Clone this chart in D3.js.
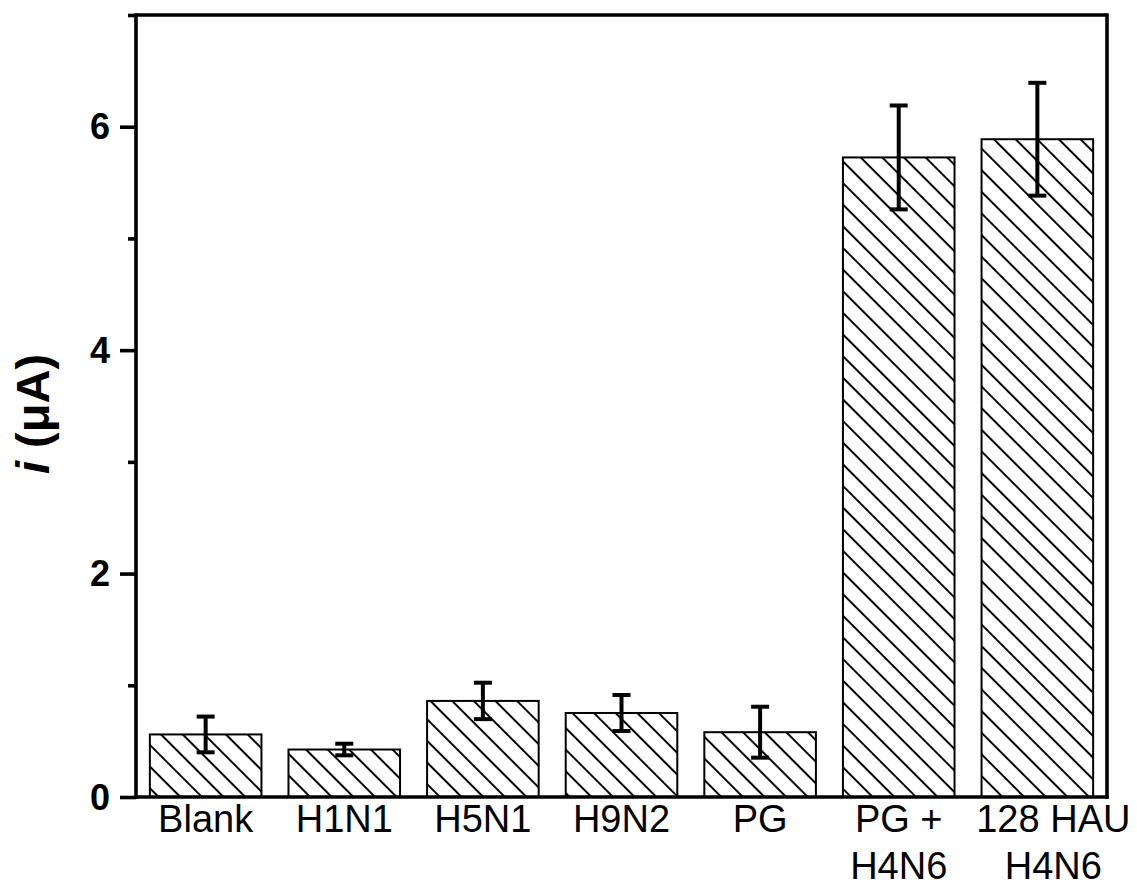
<!DOCTYPE html>
<html>
<head>
<meta charset="utf-8">
<script src="https://cdn.jsdelivr.net/npm/d3@7"></script>
<style>
  html, body { margin: 0; padding: 0; background: #fff; }
  svg { display: block; }
  text { font-family: "Liberation Sans", Arial, sans-serif; fill: #000; }
</style>
</head>
<body>
<svg id="chart" width="1137" height="886"></svg>
<script>
// ---- data ----
const categories = ["Blank", "H1N1", "H5N1", "H9N2", "PG", "PG +\nH4N6", "128 HAU\nH4N6"];
const currents   = [0.56, 0.425, 0.86, 0.752, 0.58, 5.725, 5.888];
const errors     = [0.16, 0.052, 0.163, 0.161, 0.228, 0.465, 0.505];
const majorTicks = [0, 2, 4, 6];
const minorTicks = [1, 3, 5, 7];
const yTitle = ["i", " (\u03bcA)"];

// ---- layout ----
const W = 1137, H = 886;
const plot = { left: 136, right: 1107, top: 15, bottom: 797 };

const svg = d3.select("#chart");

const x = d3.scaleBand()
  .domain(categories)
  .range([plot.left, plot.right])
  .paddingInner(0.195)
  .paddingOuter(0.1);

const y = d3.scaleLinear().domain([0, 7]).range([plot.bottom, plot.top]);

// hatch pattern
const defs = svg.append("defs");
const sp = 15.3;
const pat = defs.append("pattern")
  .attr("id", "hatch")
  .attr("patternUnits", "userSpaceOnUse")
  .attr("width", sp).attr("height", sp)
  .attr("patternTransform", "rotate(-45)");
pat.append("rect").attr("width", sp).attr("height", sp).attr("fill", "#fff");
pat.append("line")
  .attr("x1", sp / 2).attr("y1", -1).attr("x2", sp / 2).attr("y2", sp + 1)
  .attr("stroke", "#000").attr("stroke-width", 2);

const data = categories.map((c, i) => ({ c, v: currents[i], e: errors[i] }));

// bars
svg.append("g").selectAll("rect")
  .data(data).join("rect")
  .attr("x", d => x(d.c))
  .attr("y", d => y(d.v))
  .attr("width", x.bandwidth())
  .attr("height", d => y(0) - y(d.v))
  .attr("fill", "url(#hatch)")
  .attr("stroke", "#000")
  .attr("stroke-width", 2);

// error bars
const eb = svg.append("g").attr("stroke", "#000");
const cap = 9;
eb.selectAll("line.v").data(data).join("line").attr("class", "v")
  .attr("x1", d => x(d.c) + x.bandwidth() / 2)
  .attr("x2", d => x(d.c) + x.bandwidth() / 2)
  .attr("y1", d => y(d.v + d.e))
  .attr("y2", d => y(d.v - d.e))
  .attr("stroke-width", 4);
eb.selectAll("line.t").data(data).join("line").attr("class", "t")
  .attr("x1", d => x(d.c) + x.bandwidth() / 2 - cap)
  .attr("x2", d => x(d.c) + x.bandwidth() / 2 + cap)
  .attr("y1", d => y(d.v + d.e))
  .attr("y2", d => y(d.v + d.e))
  .attr("stroke-width", 4);
eb.selectAll("line.b").data(data).join("line").attr("class", "b")
  .attr("x1", d => x(d.c) + x.bandwidth() / 2 - cap)
  .attr("x2", d => x(d.c) + x.bandwidth() / 2 + cap)
  .attr("y1", d => y(d.v - d.e))
  .attr("y2", d => y(d.v - d.e))
  .attr("stroke-width", 4);

// frame
const sw = 3.6;
const frame = svg.append("g").attr("stroke", "#000").attr("stroke-width", sw).attr("fill", "none");
frame.append("line").attr("x1", plot.left).attr("x2", plot.right).attr("y1", plot.top).attr("y2", plot.top);
frame.append("line").attr("x1", plot.right).attr("x2", plot.right).attr("y1", plot.top - sw / 2).attr("y2", plot.bottom + sw / 2);
frame.append("line").attr("x1", plot.left).attr("x2", plot.right + sw / 2).attr("y1", plot.bottom).attr("y2", plot.bottom);

// y axis (major)
const yAxis = d3.axisLeft(y).tickValues(majorTicks).tickSize(16).tickPadding(10).tickFormat(d3.format("d"));
const gy = svg.append("g").attr("transform", `translate(${plot.left},0)`).call(yAxis);
gy.select(".domain").attr("stroke-width", sw).attr("d", `M0,${plot.top - sw / 2}V${plot.bottom + sw / 2}`);
gy.selectAll(".tick line").attr("stroke-width", sw);
gy.selectAll(".tick text")
  .attr("font-family", "'Liberation Sans', Arial, sans-serif")
  .attr("font-size", 36).attr("font-weight", "bold").attr("dy", "0.34em");

// minor ticks
const yMinor = d3.axisLeft(y).tickValues(minorTicks).tickSize(8).tickFormat("");
const gm = svg.append("g").attr("transform", `translate(${plot.left},0)`).call(yMinor);
gm.select(".domain").remove();
gm.selectAll(".tick line").attr("stroke-width", sw);

// x labels
const labelShift = c => (c.startsWith("128") ? 16 : 0);
const xl = svg.append("g");
data.forEach(d => {
  const lines = d.c.split("\n");
  const t = xl.append("text")
    .attr("text-anchor", "middle")
    .attr("font-size", 38)
    .attr("x", x(d.c) + x.bandwidth() / 2 + labelShift(d.c))
    .attr("y", 832);
  lines.forEach((ln, k) => {
    t.append("tspan")
      .attr("x", x(d.c) + x.bandwidth() / 2 + labelShift(d.c))
      .attr("y", 832 + k * 47)
      .text(ln);
  });
});

// y title
const yt = svg.append("text")
  .attr("transform", "translate(49,414) rotate(-90)")
  .attr("text-anchor", "middle")
  .attr("font-size", 47)
  .attr("font-weight", "bold");
yt.append("tspan").attr("font-style", "italic").text(yTitle[0]);
yt.append("tspan").text(yTitle[1]);
</script>
</body>
</html>
